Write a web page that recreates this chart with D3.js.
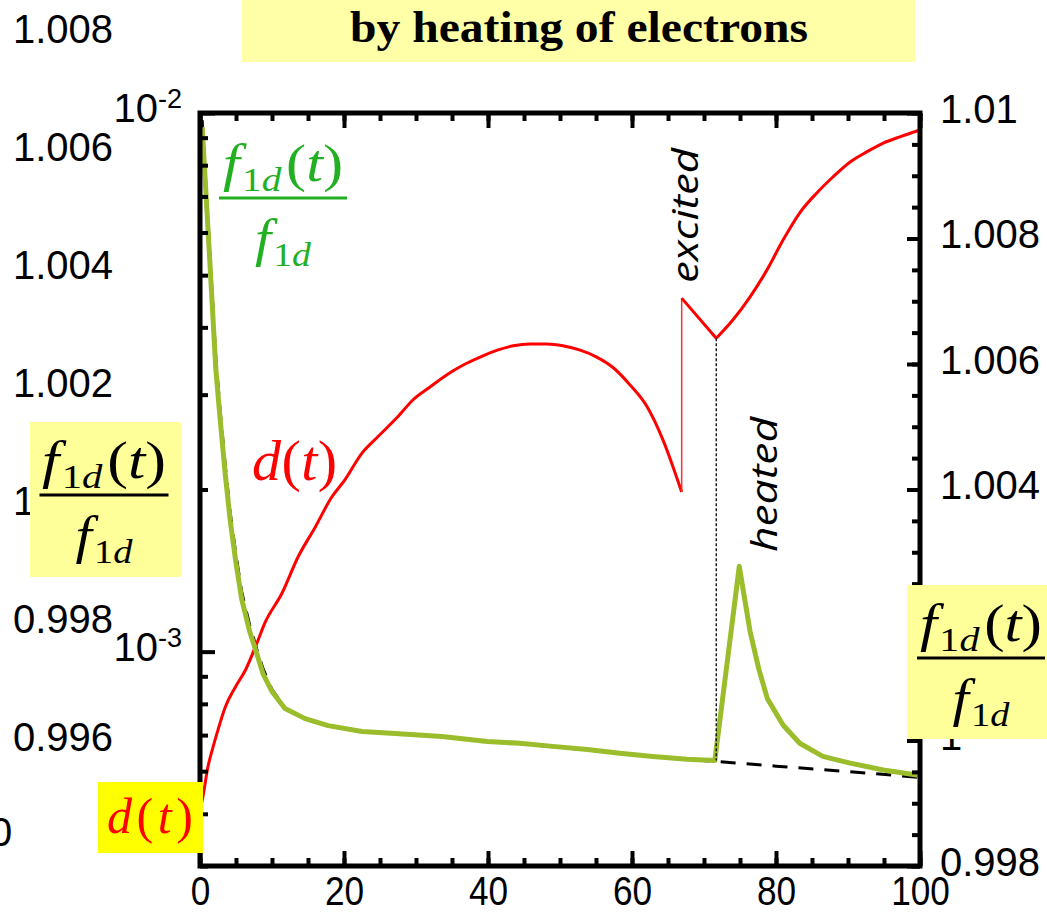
<!DOCTYPE html>
<html>
<head>
<meta charset="utf-8">
<script src="https://cdn.jsdelivr.net/npm/d3@7"></script>
<style>
  body { margin: 0; background: #fff; }
  svg { display: block; }
</style>
</head>
<body>
<div id="chart"></div>
<script>
// ---- data ----
// red d(t), right axis, before and after the jump at t ~ 67
var timeRed1 = [0, 0.4, 1.1, 1.7, 2.5, 3.5, 4.9, 6.3, 7.9, 9.0, 11.4, 13.6, 16.0, 18.3, 20.1, 22.5, 24.7, 27.4, 29.6, 31.9,
                34.3, 36.5, 38.9, 41.3, 43.5, 45.8, 48.2, 50.4, 52.8, 55.1, 57.4, 59.7, 62.1, 64.3, 65.7, 66.9];
var dRed1 = [0.99889, 0.99910, 0.99958, 0.99985, 1.00017, 1.00053, 1.00085, 1.00112, 1.00155, 1.00187, 1.00235, 1.00292,
             1.00340, 1.00388, 1.00415, 1.00458, 1.00484, 1.00515, 1.00543, 1.00563, 1.00583, 1.00598, 1.00611, 1.00622,
             1.00629, 1.00632, 1.00632, 1.00629, 1.00622, 1.00611, 1.00594, 1.00567, 1.00532, 1.00479, 1.00436, 1.00396];
var timeRed2 = [66.9, 71.7, 74.0, 76.4, 78.75, 81.0, 83.3, 85.7, 87.9, 90.3, 92.6, 94.9, 97.2, 100];
var dRed2 = [1.00705, 1.00641, 1.00670, 1.00707, 1.00750, 1.00798, 1.00841, 1.00873, 1.00898, 1.00922, 1.00938,
             1.00952, 1.00962, 1.00973];

// green f1d(t)/f1d, log axis
var timeGreen = [0.3, 1.0, 1.7, 2.2, 2.8, 3.5, 4.2, 5.0, 5.8, 6.9, 7.9, 8.75, 10.0, 11.8, 14.6, 17.8, 22.5, 27.1, 33.6,
                 39.9, 44.4, 49.0, 53.8, 58.3, 62.9, 67.6, 71.5, 74.9, 76.4, 77.6, 78.8, 81.0, 83.3, 86.5, 90.3, 94.9, 100];
var fGreen = [9.42e-3, 6.47e-3, 4.41e-3, 3.34e-3, 2.70e-3, 2.14e-3, 1.75e-3, 1.46e-3, 1.25e-3, 1.09e-3, 9.91e-4,
              9.10e-4, 8.43e-4, 7.84e-4, 7.51e-4, 7.29e-4, 7.11e-4, 7.05e-4, 6.96e-4, 6.81e-4, 6.76e-4, 6.67e-4,
              6.58e-4, 6.48e-4, 6.39e-4, 6.31e-4, 6.28e-4, 1.44e-3, 1.09e-3, 9.3e-4, 8.18e-4, 7.30e-4, 6.76e-4,
              6.39e-4, 6.21e-4, 6.03e-4, 5.89e-4];

// black dashed fit under the green curve
var timeFit = [0.3, 1.0, 1.7, 2.2, 2.8, 3.5, 4.2, 5.0, 5.8, 6.9, 7.9, 8.75, 10.0, 11.8, 14.6, 17.8, 22.5, 27.1, 33.6,
               39.9, 44.4, 49.0, 53.8, 58.3, 62.9, 67.6, 71.5, 80, 90, 100];
var fFit = [9.7e-3, 6.7e-3, 4.6e-3, 3.5e-3, 2.8e-3, 2.22e-3, 1.81e-3, 1.51e-3, 1.29e-3, 1.12e-3, 1.01e-3, 9.3e-4,
            8.5e-4, 7.86e-4, 7.5e-4, 7.28e-4, 7.1e-4, 7.04e-4, 6.95e-4, 6.81e-4, 6.75e-4, 6.66e-4, 6.57e-4, 6.47e-4,
            6.38e-4, 6.31e-4, 6.26e-4, 6.13e-4, 5.99e-4, 5.84e-4];

var tJump = 66.9;      // red jump
var tHeat = 71.7;      // dotted marker

var xMajor = [0, 20, 40, 60, 80, 100];
var xMinor = d3.range(0, 101, 5);
var logMajor = [1e-3, 1e-2];
var logMinor = [4e-4, 5e-4, 6e-4, 7e-4, 8e-4, 9e-4, 2e-3, 3e-3, 4e-3, 5e-3, 6e-3, 7e-3, 8e-3, 9e-3];
var rightMajor = [0.998, 1.000, 1.002, 1.004, 1.006, 1.008, 1.010];
var rightLabels = [0.998, 1.000, 1.004, 1.006, 1.008, 1.010];   // 1.002 sits under the yellow box
var rightMinor = d3.range(0, 25).map(function (i) { return 0.998 + i * 0.0005; });
var outerLeftTicks = [0.996, 0.998, 1.000, 1.002, 1.004, 1.006, 1.008];

var titleText = "by heating of electrons";

// ---- setup ----
var width = 1047, height = 917;
var plot = { left: 200, right: 920, top: 113, bottom: 866 };

var svg = d3.select("#chart").append("svg")
  .attr("width", width)
  .attr("height", height)
  .attr("font-family", "'Liberation Sans', Arial, sans-serif");

var x = d3.scaleLinear().domain([0, 100]).range([plot.left, plot.right]);
var yLog = d3.scaleLog().domain([4e-4, 1e-2]).range([plot.bottom, plot.top]);
var yRight = d3.scaleLinear().domain([0.998, 1.010]).range([plot.bottom, plot.top]);
var yOuter = d3.scaleLinear().domain([0.996, 1.008]).range([736, 28]);

var fmt = function (d) { return String(+d.toFixed(3)); };
var serif = "'Liberation Serif', 'Times New Roman', serif";

// title box
svg.append("rect").attr("x", 242).attr("y", 0).attr("width", 673).attr("height", 62).attr("fill", "#ffffa8");
svg.append("text").attr("x", 579).attr("y", 42).attr("text-anchor", "middle")
  .attr("font-family", serif).attr("font-weight", "bold").attr("font-size", 44)
  .attr("textLength", 458).attr("lengthAdjust", "spacingAndGlyphs")
  .text(titleText);

// ---- curves ----
var lineLog = d3.line().x(function (d) { return x(d[0]); }).y(function (d) { return yLog(d[1]); });
var lineRight = d3.line().x(function (d) { return x(d[0]); }).y(function (d) { return yRight(d[1]); });
var lineRightSmooth = d3.line().curve(d3.curveMonotoneX)
  .x(function (d) { return x(d[0]); }).y(function (d) { return yRight(d[1]); });

svg.append("path").datum(d3.zip(timeFit, fFit))
  .attr("d", lineLog).attr("fill", "none").attr("stroke", "#000")
  .attr("stroke-width", 3).attr("stroke-dasharray", "15,11");

svg.append("path").datum(d3.zip(timeRed1, dRed1))
  .attr("d", lineRightSmooth).attr("fill", "none").attr("stroke", "#ff0000")
  .attr("stroke-width", 3).attr("stroke-linejoin", "round");
svg.append("line")
  .attr("x1", x(tJump)).attr("x2", x(tJump))
  .attr("y1", yRight(dRed1[dRed1.length - 1])).attr("y2", yRight(dRed2[0]))
  .attr("stroke", "#ff3030").attr("stroke-width", 1.5);
svg.append("path").datum(d3.zip(timeRed2.slice(0, 2), dRed2.slice(0, 2)))
  .attr("d", lineRight).attr("fill", "none").attr("stroke", "#ff0000")
  .attr("stroke-width", 3);
svg.append("path").datum(d3.zip(timeRed2.slice(1), dRed2.slice(1)))
  .attr("d", lineRightSmooth).attr("fill", "none").attr("stroke", "#ff0000")
  .attr("stroke-width", 3).attr("stroke-linejoin", "round");

svg.append("path").datum(d3.zip(timeGreen, fGreen))
  .attr("d", lineLog).attr("fill", "none").attr("stroke", "#9bbd2b")
  .attr("stroke-width", 5).attr("stroke-linejoin", "round");

// dotted marker between red minimum and green step
svg.append("line")
  .attr("x1", x(tHeat)).attr("x2", x(tHeat))
  .attr("y1", yRight(dRed2[1])).attr("y2", yLog(fGreen[timeGreen.indexOf(71.5)]))
  .attr("stroke", "#000").attr("stroke-width", 1.3).attr("stroke-dasharray", "3,2");

// ---- frame and ticks ----
svg.append("rect")
  .attr("x", plot.left).attr("y", plot.top)
  .attr("width", plot.right - plot.left).attr("height", plot.bottom - plot.top)
  .attr("fill", "none").attr("stroke", "#000").attr("stroke-width", 5);

function tickGroup(axis, transform, values, size) {
  var g = svg.append("g").attr("transform", transform)
    .call(axis.tickValues(values).tickSize(size).tickFormat(""));
  g.select(".domain").remove();
  g.selectAll(".tick line").attr("stroke", "#000").attr("stroke-width", 4);
  return g;
}

tickGroup(d3.axisTop(x), "translate(0," + plot.bottom + ")", xMinor, 8);
tickGroup(d3.axisTop(x), "translate(0," + plot.bottom + ")", xMajor, 15);
tickGroup(d3.axisBottom(x), "translate(0," + plot.top + ")", xMinor, 8);
tickGroup(d3.axisBottom(x), "translate(0," + plot.top + ")", xMajor, 15);
tickGroup(d3.axisRight(yLog), "translate(" + plot.left + ",0)", logMinor, 8);
tickGroup(d3.axisRight(yLog), "translate(" + plot.left + ",0)", logMajor, 15);
tickGroup(d3.axisLeft(yRight), "translate(" + plot.right + ",0)", rightMinor, 8);
tickGroup(d3.axisLeft(yRight), "translate(" + plot.right + ",0)", rightMajor, 13);

// ---- tick labels ----
var xLab = svg.append("g").attr("transform", "translate(0," + plot.bottom + ")")
  .call(d3.axisBottom(x).tickValues(xMajor).tickSize(0));
xLab.select(".domain").remove();
xLab.selectAll("text").attr("y", 39).attr("dy", null)
  .attr("font-size", 40).attr("font-family", "'Liberation Sans', Arial, sans-serif")
  .attr("fill", "#000").attr("transform", "scale(0.88,1)");

var rLab = svg.append("g").attr("transform", "translate(940,0)")
  .call(d3.axisRight(yRight).tickValues(rightLabels).tickSize(0).tickPadding(0).tickFormat(fmt));
rLab.select(".domain").remove();
rLab.selectAll("text").attr("x", 0).attr("dy", null).attr("y", 9)
  .attr("font-size", 40).attr("font-family", "'Liberation Sans', Arial, sans-serif").attr("fill", "#000");

var oLab = svg.append("g").attr("transform", "translate(13,0)")
  .call(d3.axisRight(yOuter).tickValues(outerLeftTicks).tickSize(0).tickPadding(0).tickFormat(fmt));
oLab.select(".domain").remove();
oLab.selectAll("text").attr("x", 0).attr("dy", null).attr("y", 14)
  .attr("font-size", 40).attr("font-family", "'Liberation Sans', Arial, sans-serif").attr("fill", "#000");

// stray clipped label at left edge
svg.append("text").attr("x", -10).attr("y", 846).attr("font-size", 40).text("0");

// log axis labels 10^n
logMajor.forEach(function (v) {
  var t = svg.append("text").attr("x", 182).attr("y", yLog(v) + 9)
    .attr("text-anchor", "end").attr("font-size", 40);
  t.append("tspan").text("10");
  t.append("tspan").attr("font-size", 27).attr("dy", -14).text(String(Math.round(Math.log10(v))));
});

// ---- labels ----
function fraction(cx, barY, barW, numW, denW, color) {
  var fs = 52, sub = 34;
  var g = svg.append("g").attr("fill", color).attr("font-family", serif);
  var num = g.append("text").attr("x", cx).attr("y", barY - 17).attr("text-anchor", "middle")
    .attr("font-size", fs).attr("textLength", numW).attr("lengthAdjust", "spacingAndGlyphs");
  num.append("tspan").attr("font-style", "italic").text("f");
  num.append("tspan").attr("font-size", sub).attr("dy", 10).attr("dx", 2).text("1");
  num.append("tspan").attr("font-size", sub).attr("font-style", "italic").text("d");
  num.append("tspan").attr("dy", -10).attr("dx", 4).text("(");
  num.append("tspan").attr("font-style", "italic").text("t");
  num.append("tspan").text(")");
  g.append("rect").attr("x", cx - barW / 2).attr("y", barY - 1.5).attr("width", barW).attr("height", 3);
  var den = g.append("text").attr("x", cx).attr("y", barY + 58).attr("text-anchor", "middle")
    .attr("font-size", fs).attr("textLength", denW).attr("lengthAdjust", "spacingAndGlyphs");
  den.append("tspan").attr("font-style", "italic").text("f");
  den.append("tspan").attr("font-size", sub).attr("dy", 10).attr("dx", 2).text("1");
  den.append("tspan").attr("font-size", sub).attr("font-style", "italic").text("d");
}

function dLabel(x0, baseY, fs, w) {
  var t = svg.append("text").attr("x", x0).attr("y", baseY).attr("fill", "#ff0000")
    .attr("font-family", serif).attr("font-size", fs)
    .attr("textLength", w).attr("lengthAdjust", "spacing");
  t.append("tspan").attr("font-style", "italic").text("d");
  t.append("tspan").text("(");
  t.append("tspan").attr("font-style", "italic").text("t");
  t.append("tspan").text(")");
}

// green label inside the plot
fraction(283, 198, 128, 120, 56, "#22b022");

// left yellow box
svg.append("rect").attr("x", 30).attr("y", 422).attr("width", 151).attr("height", 155).attr("fill", "#ffff99");
fraction(104, 495, 129, 124, 57, "#000");

// right yellow box
svg.append("rect").attr("x", 907).attr("y", 585).attr("width", 140).attr("height", 154).attr("fill", "#ffff99");
fraction(981, 658, 128, 122, 57, "#000");

// d(t) in the plot and in the bright yellow box
dLabel(252, 480, 58, 85);
svg.append("rect").attr("x", 98).attr("y", 782).attr("width", 105).attr("height", 71).attr("fill", "#ffff00");
dLabel(107, 833, 50, 86);

// rotated annotations
svg.append("text").attr("transform", "translate(698,283) rotate(-90)")
  .attr("font-family", "'Open Sans', 'Liberation Sans', sans-serif").attr("font-style", "italic")
  .attr("font-size", 36).attr("textLength", 135).attr("lengthAdjust", "spacingAndGlyphs")
  .text("excited");
svg.append("text").attr("transform", "translate(777,552) rotate(-90)")
  .attr("font-family", "'Open Sans', 'Liberation Sans', sans-serif").attr("font-style", "italic")
  .attr("font-size", 36).attr("textLength", 135).attr("lengthAdjust", "spacingAndGlyphs")
  .text("heated");
</script>
</body>
</html>
